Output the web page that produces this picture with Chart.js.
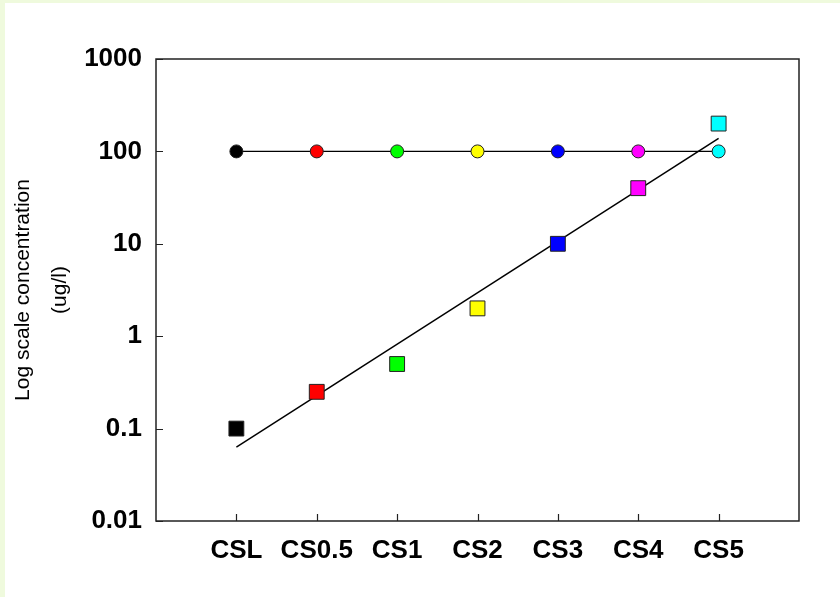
<!DOCTYPE html>
<html>
<head>
<meta charset="utf-8">
<script src="https://cdn.jsdelivr.net/npm/chart.js@4/dist/chart.umd.min.js"></script>
<style>
  body { margin: 0; background: #effadd; }
  #box { position: absolute; left: 5px; top: 3px; width: 835px; height: 594px; background: #fff; }
</style>
</head>
<body>
<div id="box"><canvas id="myChart" width="835" height="594"></canvas></div>
<script>
// standards on the x axis
var categories = ['CSL', 'CS0.5', 'CS1', 'CS2', 'CS3', 'CS4', 'CS5'];
var colores = ['#000000', '#ff0000', '#00ff00', '#ffff00', '#0000ff', '#ff00ff', '#00ffff'];
// internal standard (circles), all at 100
var circleVals = [100, 100, 100, 100, 100, 100, 100];
// calibration standards (squares)
var squareVals = [0.1, 0.25, 0.5, 2, 10, 40, 200];
var lineX = [0, 6];
var lineVals = [0.063, 138];
var yTicks = [0.01, 0.1, 1, 10, 100, 1000];

function pts(vals, xs) {
    return vals.map(function (v, i) { return { x: xs ? xs[i] : i, y: v }; });
}

// box round the plot + inner tick marks
var marcoPlugin = {
    id: 'marco',
    afterDraw: function (chart) {
        var ctx = chart.ctx;
        var a = chart.chartArea;
        var xs = chart.scales.x, ys = chart.scales.y;
        ctx.save();
        ctx.strokeStyle = '#222';
        ctx.lineWidth = 1.5;
        ctx.strokeRect(a.left, a.top, a.right - a.left, a.bottom - a.top);
        ctx.lineWidth = 1.2;
        ctx.beginPath();
        yTicks.forEach(function (v) {
            var y = Math.round(ys.getPixelForValue(v)) + 0.5;
            ctx.moveTo(a.left, y);
            ctx.lineTo(a.left + 7, y);
        });
        categories.forEach(function (c, i) {
            var x = Math.round(xs.getPixelForValue(i)) + 0.5;
            ctx.moveTo(x, a.bottom);
            ctx.lineTo(x, a.bottom - 7);
        });
        ctx.stroke();
        ctx.restore();
    }
};

var ctx = document.getElementById('myChart').getContext('2d');
var chart = new Chart(ctx, {
    type: 'line',
    data: {
        datasets: [{
            label: 'Standards',
            data: pts(squareVals),
            showLine: false,
            pointStyle: 'rect',
            pointRadius: 10.5,
            pointHoverRadius: 10.5,
            pointBackgroundColor: colores,
            pointBorderColor: '#222',
            pointBorderWidth: 1
        }, {
            label: 'Fit',
            data: pts(lineVals, lineX),
            borderColor: '#000',
            borderWidth: 1.5,
            pointRadius: 0,
            fill: false
        }, {
            label: 'Internal',
            data: pts(circleVals),
            borderColor: '#000',
            borderWidth: 1.3,
            pointStyle: 'circle',
            pointRadius: 6.5,
            pointHoverRadius: 6.5,
            pointBackgroundColor: colores,
            pointBorderColor: '#222',
            pointBorderWidth: 1,
            fill: false
        }]
    },
    options: {
        responsive: false,
        animation: false,
        devicePixelRatio: 1,
        layout: { padding: { left: 0, top: 56, right: 41, bottom: 0 } },
        plugins: { legend: { display: false }, tooltip: { enabled: false } },
        scales: {
            x: {
                type: 'linear',
                min: -1,
                max: 7,
                grid: { display: false },
                border: { display: false },
                afterBuildTicks: function (s) {
                    s.ticks = categories.map(function (c, i) { return { value: i }; });
                },
                afterFit: function (s) { s.height = 76; },
                ticks: {
                    autoSkip: false,
                    maxRotation: 0,
                    padding: 6,
                    color: '#000',
                    font: { family: 'Arial, "Liberation Sans"', size: 26, weight: 'bold' },
                    callback: function (v) { return categories[v]; }
                }
            },
            y: {
                type: 'logarithmic',
                min: 0.01,
                max: 1000,
                grid: { display: false },
                border: { display: false },
                afterBuildTicks: function (s) {
                    s.ticks = yTicks.map(function (v) { return { value: v }; });
                },
                afterFit: function (s) { s.width = 151; },
                ticks: {
                    padding: 6,
                    color: '#000',
                    font: { family: 'Arial, "Liberation Sans"', size: 26, weight: 'bold' },
                    callback: function (v) { return String(v); }
                },
                title: {
                    display: true,
                    text: ['Log scale concentration', '(ug/l)'],
                    color: '#000',
                    padding: 0,
                    font: { family: 'Arial, "Liberation Sans"', size: 21, lineHeight: 1.75 }
                }
            }
        }
    },
    plugins: [marcoPlugin]
});
</script>
</body>
</html>
